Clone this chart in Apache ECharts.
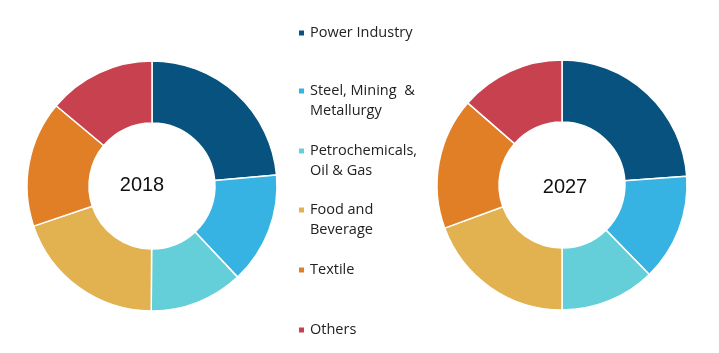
<!DOCTYPE html>
<html>
<head>
<meta charset="utf-8">
<script src="https://cdn.jsdelivr.net/npm/echarts@6/dist/echarts.min.js"></script>
<style>
    html, body { margin: 0; padding: 0; background: #fff; }
    #chart { width: 719px; height: 353px; }
</style>
</head>
<body>
<div id="chart"></div>
<script>
// segment names, second line after \n
var categories = ['Power Industry', 'Steel, Mining  &\nMetallurgy', 'Petrochemicals,\nOil & Gas', 'Food and\nBeverage', 'Textile', 'Others'];
var colors = ['#08527f', '#36b3e3', '#64cfd8', '#e2b150', '#e07f26', '#c8414f'];
// share in %
var values2018 = [23.6, 14.4, 12.1, 19.7, 16.3, 13.9];
var values2027 = [23.9, 13.8, 12.3, 19.4, 17.0, 13.6];
var years = ['2018', '2027'];

// y of the first text line of each legend entry
var legendY = [33, 91, 151, 210, 270, 330];

function pieData(vals) {
    var out = [];
    for (var i = 0; i < categories.length; i++) {
        out.push({ name: categories[i], value: vals[i] });
    }
    return out;
}

function makePie(vals, cx, cy) {
    return {
        type: 'pie',
        center: [cx, cy],
        radius: [63, 125],
        startAngle: 90,
        clockwise: true,
        avoidLabelOverlap: false,
        label: { show: false },
        labelLine: { show: false },
        emphasis: { disabled: true },
        itemStyle: { borderColor: '#fff', borderWidth: 1.5 },
        data: pieData(vals)
    };
}

// one legend per entry so the spacing follows the picture.
// two-line entries: square sits at the top of a taller icon box so it lines up with the first line
var legends = [];
for (var i = 0; i < categories.length; i++) {
    var twoLines = categories[i].indexOf('\n') >= 0;
    legends.push({
        data: [categories[i]],
        left: 297,
        top: legendY[i] - 10,
        padding: 0,
        itemWidth: 7,
        itemHeight: twoLines ? 27 : 7,
        itemGap: 0,
        icon: twoLines ? 'path://M0,0L7,0L7,7L0,7Z M0,27L0.01,27L0,27Z' : 'rect',
        selectedMode: false,
        textStyle: {
            fontFamily: 'Open Sans',
            fontSize: 14.5,
            color: '#222',
            lineHeight: 20
        }
    });
}

var myChart = echarts.init(document.getElementById('chart'), null, { renderer: 'canvas' });
myChart.setOption({
    animation: false,
    color: colors,
    legend: legends,
    graphic: [
        { type: 'text', x: 142, y: 185, style: { text: years[0], fill: '#111', font: '20px "Liberation Sans"', textAlign: 'center', textVerticalAlign: 'middle' } },
        { type: 'text', x: 565, y: 187, style: { text: years[1], fill: '#111', font: '20px "Liberation Sans"', textAlign: 'center', textVerticalAlign: 'middle' } }
    ],
    series: [
        makePie(values2018, 152, 186),
        makePie(values2027, 562, 185)
    ]
});
</script>
</body>
</html>
